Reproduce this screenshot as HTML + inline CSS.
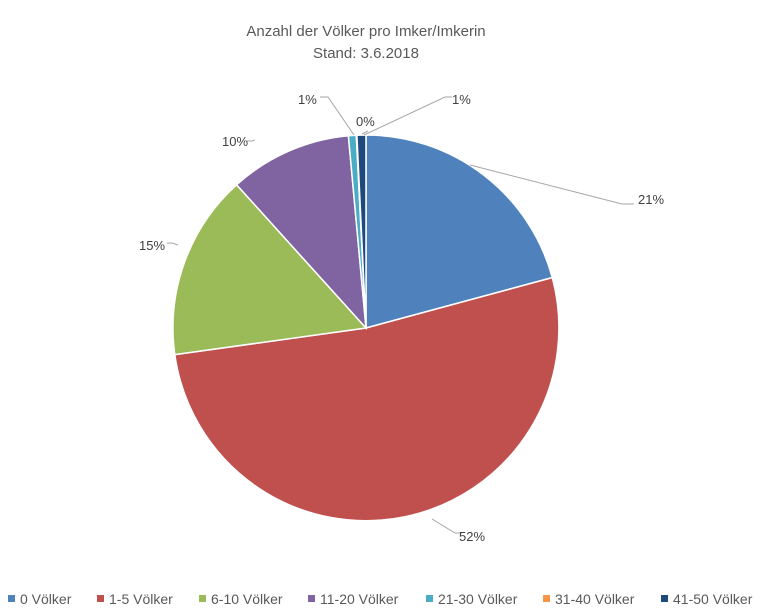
<!DOCTYPE html>
<html><head><meta charset="utf-8"><style>
body{margin:0;background:#fff;}
svg{display:block;font-family:"Liberation Sans",sans-serif;}
</style></head><body>
<svg width="766" height="613" viewBox="0 0 766 613">
<rect width="766" height="613" fill="#fff"/>
<text x="366" y="36" font-size="15" fill="#595959" text-anchor="middle">Anzahl der Völker pro Imker/Imkerin</text>
<text x="366" y="58" font-size="15" fill="#595959" text-anchor="middle">Stand: 3.6.2018</text>
<g stroke="#fff" stroke-width="1.5">
<path d="M366,328 L366,135 A193,193 0 0 1 552.3,277.6 Z" fill="#4F81BD"/>
<path d="M366,328 L552.3,277.6 A193,193 0 1 1 174.8,354.6 Z" fill="#C0504D"/>
<path d="M366,328 L174.8,354.6 A193,193 0 0 1 236.6,184.8 Z" fill="#9BBB59"/>
<path d="M366,328 L236.6,184.8 A193,193 0 0 1 348.4,135.8 Z" fill="#8064A2"/>
<path d="M366,328 L348.4,135.8 A193,193 0 0 1 356.3,135.3 Z" fill="#4BACC6"/>
<path d="M366,328 L356.3,135.3 A193,193 0 0 1 356.9,135.3 Z" fill="#F79646"/>
<path d="M366,328 L356.9,135.3 A193,193 0 0 1 366,135 Z" fill="#1F497D"/>
</g>
<g stroke="#a6a6a6" stroke-width="1" fill="none">
<polyline points="470,165 622,204 634,204"/>
<polyline points="432,519 455,533 462,533"/>
<polyline points="178,245 172,243 167,243"/>
<polyline points="255,140 252,141 247,141"/>
<polyline points="354,135 328,97 320,97"/>
<polyline points="362,134 368,131"/>
<polyline points="364,135 445,97 452,97"/>
</g>
<g font-size="13" fill="#404040">
<text x="638" y="204">21%</text>
<text x="459" y="541">52%</text>
<text x="139" y="250">15%</text>
<text x="222" y="146">10%</text>
<text x="298" y="104">1%</text>
<text x="356" y="126">0%</text>
<text x="452" y="104">1%</text>
</g>
<g font-size="14" fill="#595959">
<rect x="8" y="595" width="7" height="7" fill="#4F81BD"/><text x="20" y="604">0 Völker</text>
<rect x="97" y="595" width="7" height="7" fill="#C0504D"/><text x="109" y="604">1-5 Völker</text>
<rect x="199" y="595" width="7" height="7" fill="#9BBB59"/><text x="211" y="604">6-10 Völker</text>
<rect x="308" y="595" width="7" height="7" fill="#8064A2"/><text x="320" y="604">11-20 Völker</text>
<rect x="426" y="595" width="7" height="7" fill="#4BACC6"/><text x="438" y="604">21-30 Völker</text>
<rect x="543" y="595" width="7" height="7" fill="#F79646"/><text x="555" y="604">31-40 Völker</text>
<rect x="661" y="595" width="7" height="7" fill="#1F497D"/><text x="673" y="604">41-50 Völker</text>
</g>
</svg>
</body></html>
